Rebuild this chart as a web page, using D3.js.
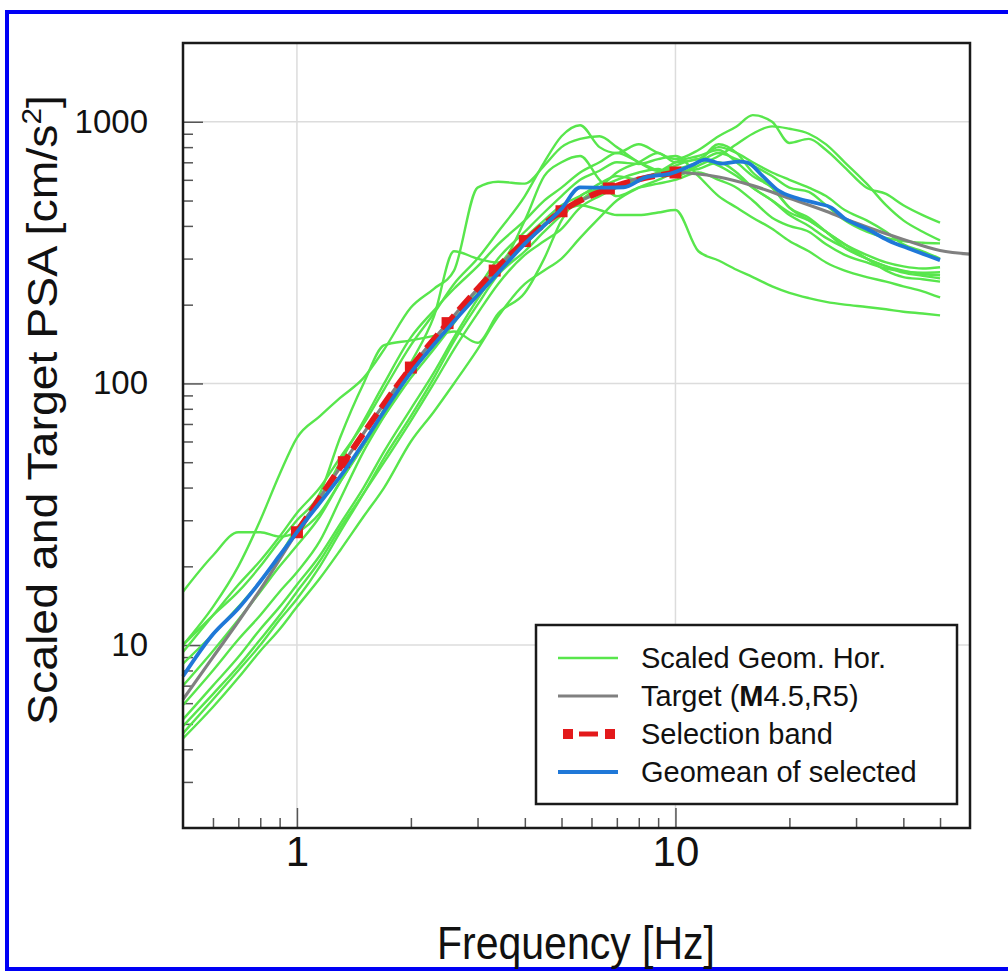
<!DOCTYPE html>
<html>
<head>
<meta charset="utf-8">
<script src="https://cdn.jsdelivr.net/npm/d3@7"></script>
<style>
  body { margin: 0; background: #fff; }
  svg { display: block; font-family: "Liberation Sans", Arial, sans-serif; }
</style>
</head>
<body>
<svg id="chart" width="1008" height="971"></svg>
<script>
// frequencies (Hz) shared by the scaled records
const freqRec = [0.5, 0.6, 0.7, 0.8, 0.9, 1.0, 1.15, 1.3, 1.5, 1.7, 2.0, 2.3, 2.6, 3.0, 3.4, 4.0, 4.5, 5.0, 5.6, 6.3,
  7.0, 8.0, 9.0, 10, 11.5, 13, 14.5, 16, 18, 20, 22.5, 25, 28, 32, 36, 40, 45, 50];

// scaled geometric-mean horizontal PSA of each record (cm/s^2)
const rec01 = [16, 22, 27, 27, 26, 27, 32, 42, 58, 75, 105, 135, 170, 230, 300, 380, 450, 520, 600, 650,
  700, 690, 720, 740, 620, 520, 470, 430, 390, 350, 320, 290, 270, 255, 245, 235, 225, 213];
const rec02 = [10, 14, 20, 30, 45, 62, 75, 88, 105, 135, 195, 230, 270, 560, 590, 580, 680, 800, 860, 880,
  800, 700, 650, 660, 700, 760, 720, 680, 620, 560, 540, 480, 420, 380, 360, 350, 345, 343];
const rec03 = [9.4, 13, 17, 21, 26, 32, 40, 52, 70, 95, 140, 185, 240, 300, 380, 520, 700, 880, 970, 800,
  760, 820, 760, 720, 780, 880, 960, 1060, 1000, 830, 860, 780, 670, 560, 530, 480, 440, 412];
const rec04 = [4.4, 5.8, 7.5, 9.5, 11.5, 14, 18, 23, 31, 40, 60, 78, 100, 135, 180, 240, 270, 300, 360, 430,
  500, 560, 600, 640, 660, 700, 640, 560, 500, 440, 400, 360, 330, 300, 280, 270, 262, 259];
const rec05 = [5.2, 7, 9, 11.5, 14, 17, 22, 29, 40, 55, 80, 110, 150, 210, 270, 340, 400, 450, 480, 460,
  440, 440, 450, 460, 320, 295, 272, 255, 235, 222, 212, 205, 200, 196, 192, 188, 185, 182];
const rec06 = [5.9, 8, 10.5, 13, 16, 19, 25, 36, 55, 75, 110, 140, 175, 220, 280, 360, 420, 480, 520, 580,
  620, 600, 640, 700, 740, 780, 700, 620, 560, 470, 420, 380, 340, 310, 290, 280, 275, 278];
const rec07 = [4.6, 6.2, 8, 10, 12.5, 15, 20, 27, 38, 52, 75, 105, 145, 200, 260, 320, 380, 440, 500, 560,
  600, 640, 660, 620, 700, 820, 760, 640, 560, 470, 430, 380, 330, 300, 280, 265, 258, 252];
const rec08 = [10, 13, 16, 20, 25, 30, 38, 62, 100, 140, 146, 152, 158, 143, 185, 222, 300, 420, 520, 560,
  640, 700, 760, 700, 720, 800, 760, 700, 640, 600, 560, 520, 460, 420, 380, 340, 320, 300];
const rec09 = [7, 9.5, 12.5, 16, 20, 24, 31, 42, 58, 80, 120, 180, 320, 300, 290, 420, 620, 700, 740, 600,
  520, 560, 580, 600, 640, 600, 560, 500, 430, 400, 380, 340, 310, 290, 275, 268, 265, 266];
const rec10 = [8.5, 11, 14, 17.5, 22, 28, 36, 50, 72, 100, 150, 190, 230, 280, 340, 420, 500, 560, 640, 700,
  760, 700, 650, 620, 680, 740, 820, 900, 960, 940, 900, 820, 700, 580, 480, 420, 380, 352];
const rec11 = [4.9, 6.5, 8.3, 10.5, 13, 16, 21, 28, 38, 50, 72, 100, 135, 185, 240, 310, 350, 390, 470, 520,
  560, 600, 640, 680, 720, 680, 620, 560, 500, 450, 420, 380, 340, 300, 270, 255, 250, 245];
const records = [rec01, rec02, rec03, rec04, rec05, rec06, rec07, rec08, rec09, rec10, rec11];

// target spectrum (M4.5, R5)
const freqTarget = [0.5, 0.6, 0.7, 0.8, 1, 1.33, 2, 2.5, 3.33, 4, 5, 6.67, 8, 10, 13, 16, 20, 25, 30, 40, 50, 60];
const psaTarget = [6.2, 9, 12.3, 16.3, 27, 50, 115, 170, 270, 350, 455, 556, 610, 640, 615, 570, 510, 455, 410, 355, 322, 312];

// selection band points
const freqBand = [1, 1.33, 2, 2.5, 3.33, 4, 5, 6.67, 10];
const psaBand = [27, 50, 115, 170, 270, 350, 455, 556, 640];

// geomean of selected records
const freqGeo = [0.5, 0.6, 0.7, 0.8, 0.9, 1, 1.33, 2, 2.5, 3.33, 4, 5, 5.6, 6.6, 7.3, 8.3, 9.7, 11, 12, 13.2,
  14.7, 15.5, 17, 18.7, 21, 23.8, 25.8, 28, 32, 36.5, 42, 50];
const psaGeo = [7.6, 11, 13.8, 17.5, 22, 27, 46, 110, 162, 256, 342, 465, 561, 560, 562, 612, 634, 680, 717, 692,
  704, 698, 620, 546, 510, 487, 470, 427, 390, 352, 325, 296];

// ticks and legend
const xMajor = [1, 10];
const yMajor = [10, 100, 1000];
const legendLabels = ['Scaled Geom. Hor.', 'Target (', 'Selection band', 'Geomean of selected'];

const C = { green: '#58e64c', gray: '#808080', red: '#e3191b', blue: '#1f78d8' };

const pl = { left: 183, right: 970, top: 43, bottom: 828 };
const svg = d3.select('#chart');

// blue frame round the figure
svg.append('path')
  .attr('d', 'M5,12 H1008 M7,10 V971 M5,969 H1008')
  .attr('stroke', '#0000f5').attr('stroke-width', 4).attr('fill', 'none');

const x = d3.scaleLog().domain([0.5, 60]).range([pl.left, pl.right]);
const y = d3.scaleLog().domain([2, 2000]).range([pl.bottom, pl.top]);

// grid
svg.append('g').selectAll('line').data(xMajor).join('line')
  .attr('x1', d => x(d)).attr('x2', d => x(d)).attr('y1', pl.top).attr('y2', pl.bottom)
  .attr('stroke', '#dcdcdc').attr('stroke-width', 1.5);
svg.append('g').selectAll('line').data(yMajor).join('line')
  .attr('y1', d => y(d)).attr('y2', d => y(d)).attr('x1', pl.left).attr('x2', pl.right)
  .attr('stroke', '#dcdcdc').attr('stroke-width', 1.5);

// minor ticks
const xMinor = x.ticks().filter(d => !xMajor.includes(d) && d > 0.5 && d < 60);
const yMinor = y.ticks().filter(d => !yMajor.includes(d) && d > 2 && d < 2000);

svg.append('g').attr('transform', `translate(0,${pl.bottom})`)
  .call(d3.axisBottom(x).tickValues(xMinor).tickSize(-10).tickFormat(''))
  .call(g => g.select('.domain').remove())
  .call(g => g.selectAll('line').attr('stroke', '#555').attr('stroke-width', 1.5));
svg.append('g').attr('transform', `translate(${pl.left},0)`)
  .call(d3.axisLeft(y).tickValues(yMinor).tickSize(-10).tickFormat(''))
  .call(g => g.select('.domain').remove())
  .call(g => g.selectAll('line').attr('stroke', '#555').attr('stroke-width', 1.5));

// major ticks + labels
svg.append('g').attr('transform', `translate(0,${pl.bottom})`)
  .call(d3.axisBottom(x).tickValues(xMajor).tickSize(-20).tickPadding(8).tickFormat(d3.format('d')))
  .call(g => g.select('.domain').remove())
  .call(g => g.selectAll('line').attr('stroke', '#555').attr('stroke-width', 1.5))
  .call(g => g.selectAll('text').attr('font-size', 42).attr('fill', '#111')
    .attr('font-family', '"Liberation Sans", Arial, sans-serif'));
svg.append('g').attr('transform', `translate(${pl.left},0)`)
  .call(d3.axisLeft(y).tickValues(yMajor).tickSize(-20).tickPadding(35).tickFormat(d3.format('d')))
  .call(g => g.select('.domain').remove())
  .call(g => g.selectAll('line').attr('stroke', '#555').attr('stroke-width', 1.5))
  .call(g => g.selectAll('text').attr('font-size', 33).attr('fill', '#111')
    .attr('font-family', '"Liberation Sans", Arial, sans-serif'));

// curves
const plot = svg.append('g');
const lineOf = (fs) => d3.line()
  .x((d, i) => x(fs[i]))
  .y(d => y(d))
  .curve(d3.curveMonotoneX);

plot.selectAll('path.rec').data(records).join('path')
  .attr('class', 'rec')
  .attr('d', d => lineOf(freqRec)(d))
  .attr('fill', 'none').attr('stroke', C.green).attr('stroke-width', 2.4);

plot.append('path').attr('d', lineOf(freqTarget)(psaTarget))
  .attr('fill', 'none').attr('stroke', C.gray).attr('stroke-width', 3.2);

plot.append('path').attr('d', lineOf(freqBand)(psaBand))
  .attr('fill', 'none').attr('stroke', C.red).attr('stroke-width', 6)
  .attr('stroke-dasharray', '18,7');
plot.selectAll('rect.band').data(psaBand).join('rect')
  .attr('class', 'band')
  .attr('x', (d, i) => x(freqBand[i]) - 6).attr('y', d => y(d) - 6)
  .attr('width', 12).attr('height', 12).attr('fill', C.red);

plot.append('path').attr('d', lineOf(freqGeo)(psaGeo))
  .attr('fill', 'none').attr('stroke', C.blue).attr('stroke-width', 3.8);

// plot frame
svg.append('rect')
  .attr('x', pl.left).attr('y', pl.top).attr('width', pl.right - pl.left).attr('height', pl.bottom - pl.top)
  .attr('fill', 'none').attr('stroke', '#1a1a1a').attr('stroke-width', 2.5);

// axis titles
svg.append('text')
  .attr('x', 576).attr('y', 959).attr('text-anchor', 'middle')
  .attr('font-size', 46).attr('fill', '#111')
  .attr('textLength', 278).attr('lengthAdjust', 'spacingAndGlyphs')
  .text('Frequency [Hz]');

const yt = svg.append('text')
  .attr('transform', 'translate(57,410) rotate(-90)')
  .attr('text-anchor', 'middle')
  .attr('font-size', 42).attr('fill', '#111')
  .attr('textLength', 630).attr('lengthAdjust', 'spacingAndGlyphs');
yt.append('tspan').text('Scaled and Target PSA [cm/s');
yt.append('tspan').attr('dy', -16).attr('font-size', 27).text('2');
yt.append('tspan').attr('dy', 16).text(']');

// legend
const lg = svg.append('g');
lg.append('rect').attr('x', 536).attr('y', 625).attr('width', 421).attr('height', 179)
  .attr('fill', '#fff').attr('stroke', '#1a1a1a').attr('stroke-width', 2.5);
const rowY = [658, 696, 734, 772];
lg.append('line').attr('x1', 558).attr('x2', 618).attr('y1', rowY[0]).attr('y2', rowY[0])
  .attr('stroke', C.green).attr('stroke-width', 2.5);
lg.append('line').attr('x1', 558).attr('x2', 618).attr('y1', rowY[1]).attr('y2', rowY[1])
  .attr('stroke', C.gray).attr('stroke-width', 3.2);
lg.append('line').attr('x1', 579).attr('x2', 598).attr('y1', rowY[2]).attr('y2', rowY[2])
  .attr('stroke', C.red).attr('stroke-width', 5);
lg.selectAll('rect.mk').data([563, 605]).join('rect').attr('class', 'mk')
  .attr('x', d => d).attr('y', rowY[2] - 5).attr('width', 10).attr('height', 10).attr('fill', C.red);
lg.append('line').attr('x1', 558).attr('x2', 618).attr('y1', rowY[3]).attr('y2', rowY[3])
  .attr('stroke', C.blue).attr('stroke-width', 3.8);

legendLabels.forEach((t, i) => {
  const tx = lg.append('text').attr('x', 641).attr('y', rowY[i] + 10)
    .attr('font-size', 29).attr('fill', '#111');
  if (i === 1) {
    tx.append('tspan').text(t);
    tx.append('tspan').attr('font-weight', 'bold').text('M');
    tx.append('tspan').text('4.5,R5)');
  } else {
    tx.text(t);
  }
});
</script>
</body>
</html>
